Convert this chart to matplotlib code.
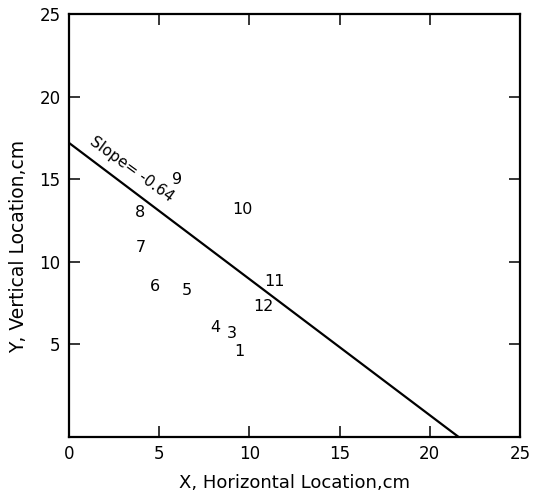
import numpy as np
import matplotlib
matplotlib.use('Agg')
import matplotlib.pyplot as plt

plt.rcParams['font.family'] = ['DejaVu Sans']

# 点的编号及位置
point_ids = ['1', '3', '4', '5', '6', '7', '8', '9', '10', '11', '12']
point_x = [9.45, 9.05, 8.1, 6.55, 4.77, 4.0, 3.94, 5.99, 9.6, 11.4, 10.8]
point_y = [4.6, 5.65, 6.0, 8.25, 8.5, 10.85, 13.0, 15.0, 13.15, 8.8, 7.27]

# 拟合直线的两个端点
line_x = [0, 21.6]
line_y = [17.2, -0.6]
slope_text = 'Slope= -0.64'

x_ticks = [0, 5, 10, 15, 20, 25]
y_ticks = [5, 10, 15, 20, 25]

fig = plt.figure(figsize=(5.37, 4.93), dpi=100)
ax = fig.add_axes([69 / 537, 56 / 493, 451 / 537, 423 / 493])

ax.plot(line_x, line_y, color='black', lw=1.6)
for s, x, y in zip(point_ids, point_x, point_y):
    ax.text(x, y, s, fontsize=11.5, ha='center', va='center')

ax.text(3.45, 15.6, slope_text, fontsize=11, rotation=-36,
        ha='center', va='center', rotation_mode='anchor')

ax.set_xlim(0, 25)
ax.set_ylim(-0.6, 25)
ax.set_xticks(x_ticks)
ax.set_yticks(y_ticks)
ax.tick_params(direction='in', length=8, width=1.1, labelsize=12,
               top=True, right=True, pad=6)
for sp in ax.spines.values():
    sp.set_linewidth(1.6)

ax.set_xlabel('X, Horizontal Location,cm', fontsize=13, labelpad=8)
ax.set_ylabel('Y, Vertical Location,cm', fontsize=13.5)
ax.yaxis.set_label_coords(-0.09, 0.45)

plt.savefig('out.png', dpi=100)
